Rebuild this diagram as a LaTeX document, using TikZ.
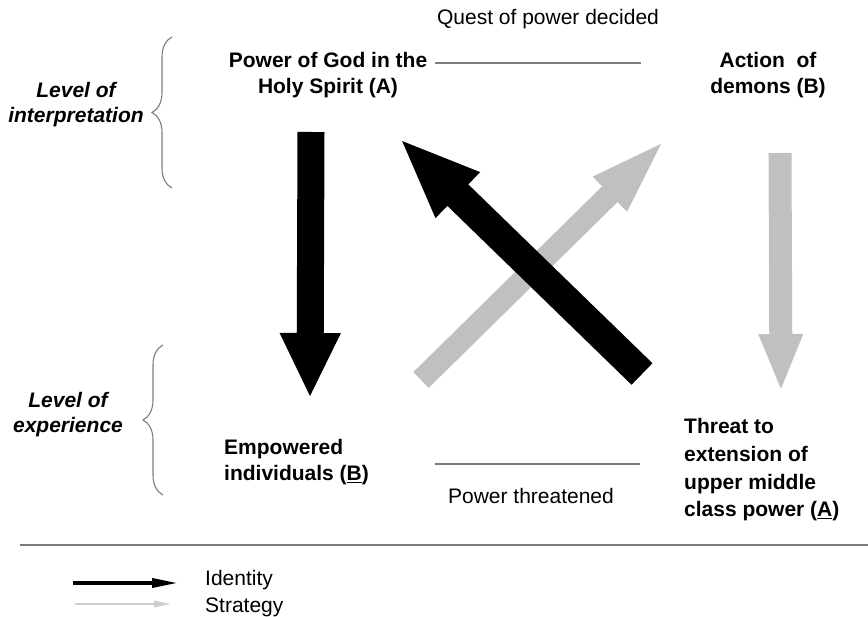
\documentclass[tikz,border=0pt]{standalone}
\usepackage{fontspec}
\setmainfont{Liberation Sans}
\usetikzlibrary{arrows.meta,decorations.pathreplacing,positioning}
\definecolor{lightgrey}{RGB}{192,192,192}
\definecolor{rulegrey}{RGB}{125,125,125}

\begin{document}
\begin{tikzpicture}[x=1pt, y=-1pt,
  main/.style = {font=\fontsize{21}{26}\selectfont\bfseries, inner sep=0pt},
  level/.style = {font=\fontsize{21}{25}\selectfont\bfseries\itshape, align=center, inner sep=0pt},
  note/.style = {font=\fontsize{21}{24}\selectfont, inner sep=0pt},
  brace/.style = {draw=rulegrey, line width=1.1pt, decorate, decoration={brace, amplitude=20pt}},
  rule/.style = {draw=rulegrey, line width=1.2pt}]
\useasboundingbox (0,0) rectangle (868,617);

% labels
\node[main, align=center] (1) at (328,75) {Power of God in the\\Holy Spirit (A)};
\node[main, align=center] (2) at (768,75) {Action~~of\\demons (B)};
\node[main, align=left, anchor=west] (3) at (224,462) {Empowered\\individuals (\underline{B})};
\node[main, align=left, anchor=west, font=\fontsize{21}{27.7}\selectfont\bfseries] (4) at (684,470) {Threat to\\extension of\\upper middle\\class power (\underline{A})};
\node[note] (quest) at (548,19) {Quest of power decided};
\node[note] (threat) at (531,496) {Power threatened};
\node[level] (interp) at (76,105) {Level of\\interpretation};
\node[level] (exper) at (68,415) {Level of\\experience};

% brackets and rules
\coordinate (b1) at (172,188);
\coordinate (b2) at (172,37);
\coordinate (b3) at (163,495);
\coordinate (b4) at (163,345);
\draw[brace] (b1) -- (b2);
\draw[brace] (b3) -- (b4);
\coordinate (q1) at (435,63);
\coordinate (q2) at (641,63);
\coordinate (t1) at (435,464);
\coordinate (t2) at (640,464);
\draw[rule] (q1) -- (q2);
\draw[rule] (t1) -- (t2);
\coordinate (s1) at (20,545);
\coordinate (s2) at (868,545);
\draw[rule] (s1) -- (s2);

% big arrows
\coordinate (gs) at (421,380);
\coordinate (ge) at (669,136);
\coordinate (ds) at (780,153);
\coordinate (de) at (781,392);
\coordinate (ks) at (642,374);
\coordinate (ke) at (399,138);
\coordinate (ps) at (311,132);
\coordinate (pe) at (310,398);
\draw[lightgrey, line width=22pt, -{Triangle[length=83pt,width=41pt]}] (gs) -- (ge);
\draw[lightgrey, line width=23pt, -{Triangle[length=58pt,width=40pt]}] (ds) -- (de);
\draw[black, line width=30pt, -{Triangle[length=82pt,width=57pt]}] (ks) -- (ke);
\draw[black, line width=27pt, -{Triangle[length=65pt,width=56pt]}] (ps) -- (pe);

% legend
\coordinate (la) at (73,583);
\coordinate (lb) at (178,583);
\coordinate (lc) at (75,604);
\coordinate (ld) at (172,604);
\draw[black, line width=3.5pt, -{Triangle[length=26pt,width=9pt]}] (la) -- (lb);
\draw[lightgrey!80, line width=2.5pt, -{Triangle[length=18pt,width=6pt]}] (lc) -- (ld);
\node[note, right=27pt of lb, yshift=3pt] (ident) {Identity};
\node[note, right=33pt of ld, yshift=-3pt] (strat) {Strategy};
\end{tikzpicture}
\end{document}
